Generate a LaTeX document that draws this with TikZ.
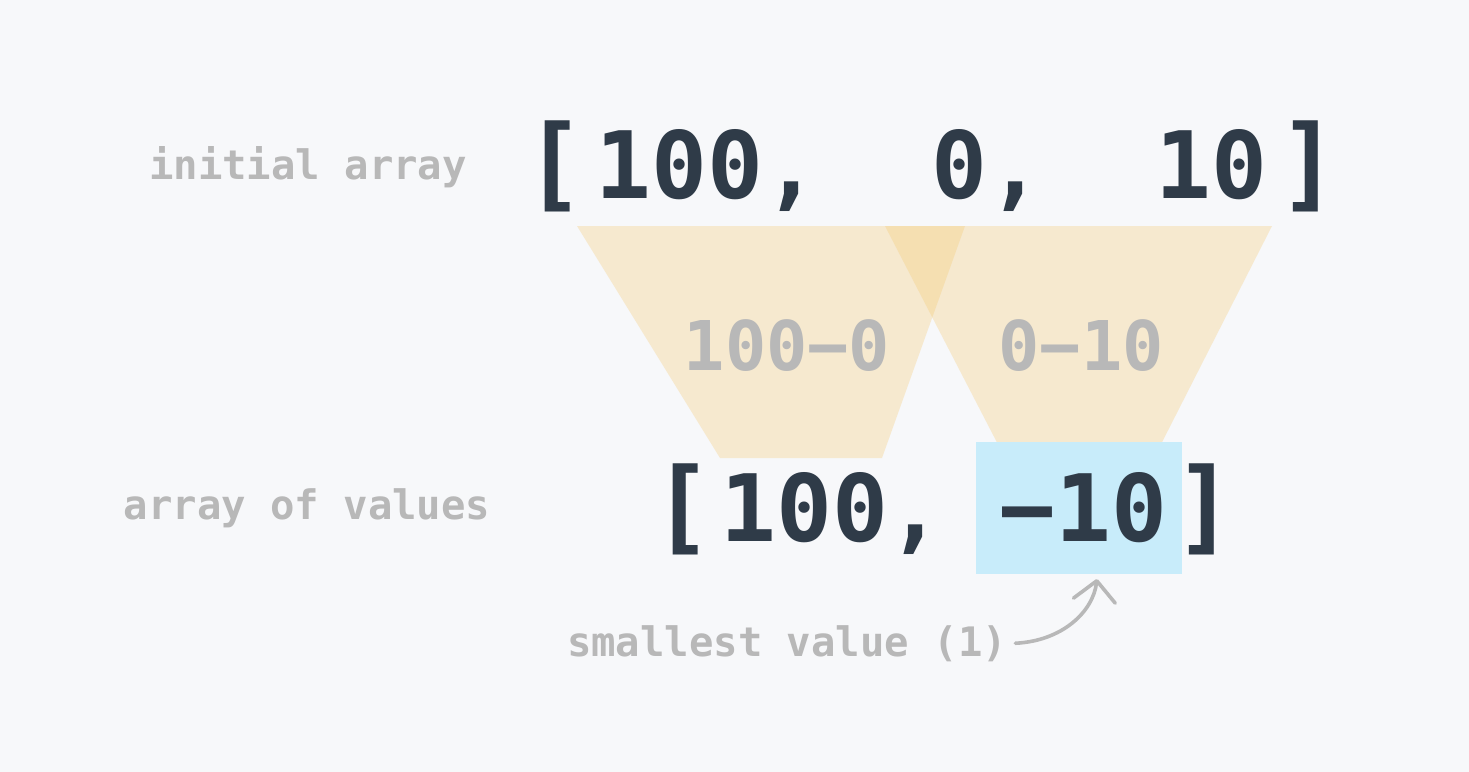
\documentclass[tikz,border=0pt]{standalone}
\usepackage{fontspec}
\usepackage{graphicx}
\newfontfamily\mono{DejaVu Sans Mono}
\usetikzlibrary{arrows.meta}
\definecolor{bg}{HTML}{F7F8FA}
\definecolor{ink}{HTML}{2F3B48}
\definecolor{muted}{HTML}{B8B8B8}
\definecolor{funnel}{RGB}{245,200,110}
\definecolor{hilite}{HTML}{C8ECFA}
\newcommand\cellgap{\hphantom{0}}
\newcommand\tallL{\scalebox{1.08}[1.1]{[}}
\newcommand\tallR{\scalebox{1.08}[1.1]{]}}
\newcommand\mns{\char"2212\relax}
\tikzset{
  bigtext/.style={inner sep=0, anchor=base, text=ink, font=\mono\bfseries\fontsize{46.5}{50}\selectfont},
  midlabel/.style={inner sep=0, anchor=base, text=muted, font=\mono\bfseries\fontsize{34.3}{38}\selectfont},
  lbl/.style={inner sep=0, anchor=base, text=muted, font=\mono\bfseries\fontsize{20.3}{24}\selectfont},
  funnelshape/.style={fill=funnel, fill opacity=0.3},
  arrowline/.style={draw=muted, line width=1.8pt, line cap=round, -{Straight Barb[length=10pt,width=21pt,round]}}
}
\begin{document}
\begin{tikzpicture}[x=0.5pt,y=-0.5pt]
\fill[bg] (0,0) rectangle (1469,772);
\useasboundingbox (0,0) rectangle (1469,772);
% funnels
\fill[funnelshape] (577,226) -- (965,226) -- (882,458) -- (720,458) -- cycle;
\fill[funnelshape] (885,226) -- (1272,226) -- (1154,458) -- (1005,458) -- cycle;
% differences
\node[midlabel] (d1) at (787,370) {100\mns 0};
\node[midlabel] (d2) at (1081,370) {0\mns 10};
% highlight
\node[fill=hilite, inner sep=0, minimum width=103pt, minimum height=66pt] (hl) at (1079,508) {};
% arrays
\node[bigtext] (init) at (931.5,198) {\tallL\kern5.5pt 100,\cellgap\cellgap 0,\cellgap\cellgap 10\kern5.5pt\tallR};
\node[bigtext] (vals) at (944,541) {\tallL\kern3.5pt 100,\cellgap \mns 10\kern3.5pt\tallR};
% labels
\node[lbl] (l1) at (308,179) {initial array};
\node[lbl] (l2) at (307,519) {array of values};
\node[lbl] (l3) at (787,656) {smallest value (1)};
% arrow
\coordinate (tip) at (1097,579);
\draw[arrowline] ([xshift=4pt]l3.east) .. controls (1062,641) and (1093,612) .. (tip);
\end{tikzpicture}
\end{document}
